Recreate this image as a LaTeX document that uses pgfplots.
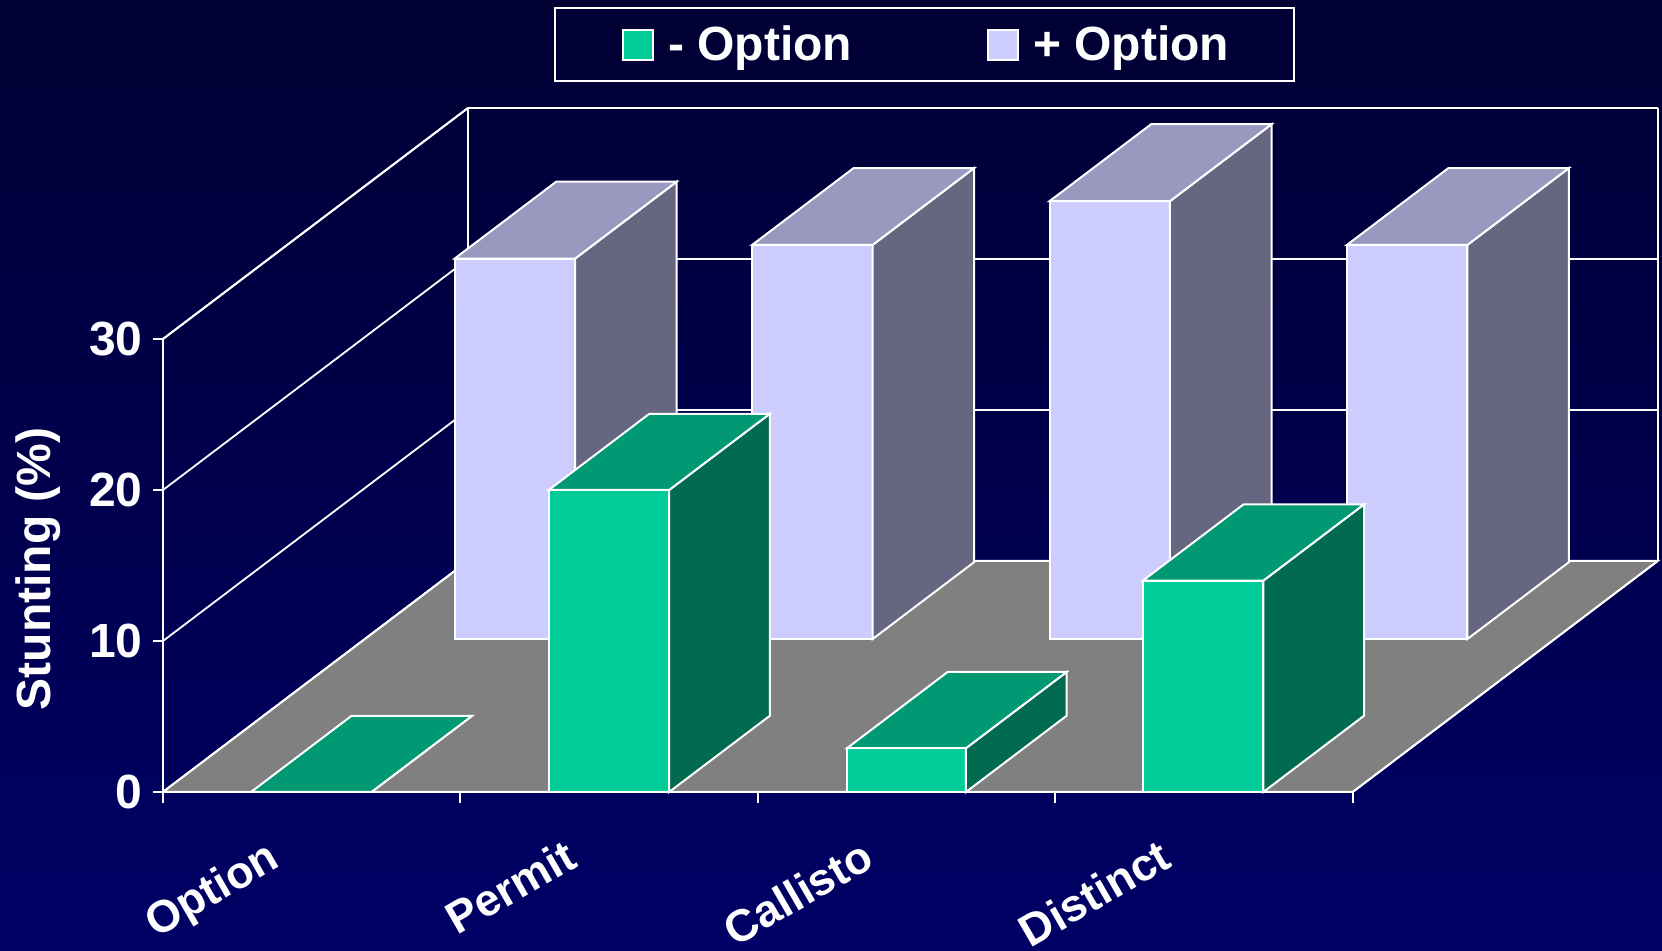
\documentclass[border=0pt]{standalone}
\usepackage{fontspec}
\setmainfont{Liberation Sans}
\usepackage{pgfplots}
\pgfplotsset{compat=1.18}
\definecolor{frontg}{HTML}{00CC99}
\definecolor{topg}{HTML}{009973}
\definecolor{sideg}{HTML}{006B50}
\definecolor{frontp}{HTML}{CCCCFF}
\definecolor{topp}{HTML}{9999BF}
\definecolor{sidep}{HTML}{666680}
\definecolor{floorc}{HTML}{808080}
\definecolor{bgtop}{HTML}{000033}
\definecolor{bgbot}{HTML}{000066}

% one 3D bar: colour prefix, x from, x to, depth from, depth to, value
\newcommand{\tdbar}[6]{%
  \addplot3[forget plot,draw=white,line width=1pt,fill=front#1] coordinates {(#2,#4,0) (#3,#4,0) (#3,#4,#6) (#2,#4,#6) (#2,#4,0)} --cycle;
  \addplot3[forget plot,draw=white,line width=1pt,fill=side#1] coordinates {(#3,#4,0) (#3,#5,0) (#3,#5,#6) (#3,#4,#6) (#3,#4,0)} --cycle;
  \addplot3[forget plot,draw=white,line width=1pt,fill=top#1] coordinates {(#2,#4,#6) (#3,#4,#6) (#3,#5,#6) (#2,#5,#6) (#2,#4,#6)} --cycle;
}

\begin{document}
\begin{tikzpicture}
\path[use as bounding box] (0,0) rectangle (831pt,475.5pt);
\clip (0,0) rectangle (831pt,475.5pt);
\shade[top color=bgtop,bottom color=bgbot] (0,0) rectangle (831pt,475.5pt);
\begin{axis}[
  at={(81.5pt,79.5pt)},anchor=origin,
  x={(148.7pt,0pt)},y={(152.5pt,115.5pt)},z={(0pt,7.55pt)},
  xmin=0,xmax=4,ymin=0,ymax=1,zmin=0,zmax=30,
  clip=false,
  axis line style={white,line width=1pt},
  major tick length=0pt,
  xtick=\empty,
  ytick=\empty,
  ztick={0,10,20,30},
  ztick pos=left,
  zmajorgrids=true,
  major grid style={white,line width=0.9pt},
  extra x ticks={0.5,1.5,2.5,3.5},
  extra x tick labels={Option,Permit,Callisto,Distinct},
  extra x tick style={major tick length=0pt,grid=none,
    tick label style={font=\fontsize{22.5}{26}\selectfont\bfseries,text=white,rotate=30,anchor=east,
      text height=17pt,text depth=5pt,inner sep=0pt,xshift=-31.3pt,yshift=-18.5pt}},
  z tick label style={font=\fontsize{24}{28}\selectfont\bfseries,text=white,anchor=east,inner sep=0pt,xshift=-10pt},
  /pgf/number format/assume math mode=true,
  zlabel={Stunting (\%)},
  every axis z label/.style={at={(axis cs:-0.42,0,14.77)},rotate=90,anchor=center,
    font=\fontsize{24}{28}\selectfont\bfseries,text=white},
  legend columns=2,
  legend cell align=left,
  legend style={at={(axis cs:2.56,0,49.5)},anchor=center,draw=white,line width=1pt,fill=none,
    text=white,font=\fontsize{24}{28}\selectfont\bfseries,
    inner xsep=30.35pt,inner ysep=7pt,
    /tikz/every odd column/.append style={column sep=5pt},
    /tikz/every even column/.append style={column sep=62.3pt}},
  legend image code/.code={\path (-3.2pt,0pt); \draw[#1,draw=white,line width=1pt] (0pt,-7.5pt) rectangle (15pt,7.5pt);},
]
% floor
\addplot3[forget plot,draw=white,line width=1pt,fill=floorc] coordinates {(0,0,0) (4,0,0) (4,1,0) (0,1,0) (0,0,0)} --cycle;
% tick marks
\pgfplotsinvokeforeach{0,1,2,3,4}{
  \addplot3[forget plot,white,line width=1pt] coordinates {(#1,0,0) (#1,0,-0.7)};
}
\pgfplotsinvokeforeach{0,10,20,30}{
  \addplot3[forget plot,white,line width=1pt] coordinates {(0,0,#1) (-0.035,0,#1)};
}
% + Option, back row
\tdbar{p}{0.302}{0.707}{0.662}{0.995}{25.2}
\tdbar{p}{1.302}{1.707}{0.662}{0.995}{26.1}
\tdbar{p}{2.302}{2.707}{0.662}{0.995}{29.0}
\tdbar{p}{3.302}{3.707}{0.662}{0.995}{26.1}
% - Option, front row
\tdbar{g}{0.296}{0.701}{0}{0.33}{0}
\tdbar{g}{1.297}{1.702}{0}{0.33}{20}
\tdbar{g}{2.30}{2.70}{0}{0.33}{2.9}
\tdbar{g}{3.295}{3.70}{0}{0.33}{14}
\addlegendimage{fill=frontg}
\addlegendimage{fill=frontp}
\legend{- Option,+ Option}
\end{axis}
\end{tikzpicture}
\end{document}
